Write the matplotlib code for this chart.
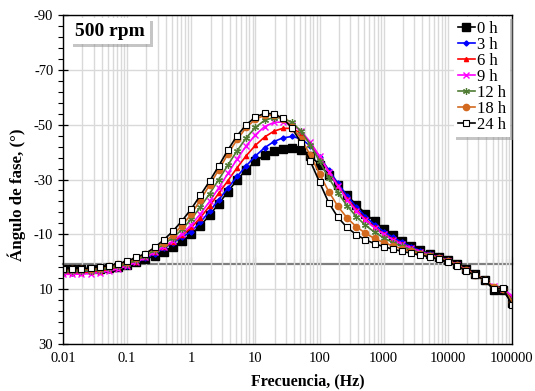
import matplotlib
matplotlib.use("Agg")
import matplotlib.pyplot as plt
import matplotlib.patheffects as pe
from matplotlib.ticker import FixedLocator, FuncFormatter, LogLocator, NullFormatter

plt.rcParams['font.family'] = ['Liberation Serif', 'DejaVu Serif']
plt.rcParams['axes.unicode_minus'] = False

# Measurement frequencies (7 points per decade), Hz
freq_hz = [
    0.01, 0.013895, 0.019307, 0.026827, 0.037276, 0.051795, 0.071969,
    0.1, 0.13895, 0.19307, 0.26827, 0.37276, 0.51795, 0.71969,
    1.0, 1.3895, 1.9307, 2.6827, 3.7276, 5.1795, 7.1969,
    10.0, 13.895, 19.307, 26.827, 37.276, 51.795, 71.969,
    100.0, 138.95, 193.07, 268.27, 372.76, 517.95, 719.69,
    1000.0, 1389.5, 1930.7, 2682.7, 3727.6, 5179.5, 7196.9,
    10000.0, 13895.0, 19307.0, 26827.0, 37276.0, 51795.0, 71969.0,
    100000.0]

# Phase angle (degrees) for each immersion time
phase_0h = [2.8, 2.8, 2.8, 2.7, 2.5, 2.2, 1.8,
            1.1, 0.2, -0.9, -2.2, -3.7, -5.4, -7.5,
            -10.0, -13.2, -17.0, -21.2, -25.6, -29.8, -33.6,
            -36.6, -38.9, -40.4, -41.3, -41.6, -40.8, -38.6,
            -35.4, -31.8, -28.0, -24.3, -20.8, -17.6, -14.7,
            -12.0, -9.7, -7.6, -5.8, -4.2, -2.9, -1.7,
            -0.6, 0.9, 2.8, 4.6, 6.6, 10.2, 10.4, 15.0]
phase_3h = [4.0, 4.0, 3.9, 3.8, 3.5, 3.0, 2.3,
            1.4, 0.2, -1.3, -3.0, -4.9, -6.9, -9.0,
            -11.0, -14.5, -18.4, -22.6, -26.9, -31.1, -35.0,
            -38.6, -41.6, -43.8, -45.2, -45.7, -44.8, -42.2,
            -38.3, -33.5, -28.6, -24.0, -20.0, -16.5, -13.5,
            -11.0, -8.9, -7.1, -5.5, -4.0, -2.7, -1.6,
            -0.5, 1.0, 3.0, 4.8, 6.6, 9.6, 9.8, 13.5]
phase_6h = [4.2, 4.2, 4.1, 3.9, 3.6, 3.1, 2.3,
            1.3, 0.0, -1.6, -3.4, -5.2, -7.2, -9.6,
            -12.5, -16.1, -20.4, -25.0, -29.6, -34.3, -38.7,
            -42.5, -45.5, -47.6, -48.7, -48.6, -46.8, -43.2,
            -38.3, -32.9, -27.8, -23.0, -19.0, -15.5, -12.6,
            -10.2, -8.2, -6.5, -5.0, -3.7, -2.6, -1.5,
            -0.4, 1.1, 3.0, 4.8, 6.6, 9.3, 9.6, 13.0]
phase_9h = [4.6, 4.6, 4.5, 4.3, 4.0, 3.4, 2.6,
            1.5, 0.1, -1.6, -3.5, -5.5, -7.6, -10.2,
            -13.5, -17.5, -22.0, -27.0, -32.2, -37.5, -42.3,
            -46.3, -49.3, -50.8, -51.0, -50.0, -47.6, -43.6,
            -38.4, -32.8, -27.6, -22.6, -18.6, -15.2, -12.4,
            -10.0, -8.0, -6.3, -4.9, -3.6, -2.5, -1.5,
            -0.4, 1.1, 3.0, 4.8, 6.8, 9.0, 9.8, 12.5]
phase_12h = [3.5, 3.5, 3.4, 3.2, 2.9, 2.4, 1.7,
             0.7, -0.6, -2.2, -4.2, -6.4, -8.8, -11.8,
             -15.6, -20.0, -24.8, -30.0, -35.3, -40.5, -45.2,
             -49.0, -51.6, -52.6, -52.4, -50.8, -47.6, -42.6,
             -36.6, -30.6, -25.2, -20.4, -16.5, -13.3, -10.8,
             -8.7, -7.0, -5.6, -4.4, -3.3, -2.3, -1.4,
             -0.4, 1.2, 3.2, 5.0, 6.8, 9.5, 10.0, 14.0]
phase_18h = [2.8, 2.8, 2.7, 2.5, 2.2, 1.7, 1.0,
             0.1, -1.2, -2.9, -4.9, -7.0, -9.8, -13.2,
             -17.4, -22.6, -28.0, -33.6, -39.3, -44.6, -49.0,
             -52.0, -53.4, -53.5, -52.2, -49.3, -44.8, -38.8,
             -32.0, -25.6, -20.2, -16.0, -12.8, -10.4, -8.5,
             -7.0, -5.8, -4.7, -3.8, -2.9, -2.1, -1.3,
             -0.4, 1.2, 3.0, 4.8, 6.5, 9.2, 9.8, 14.5]
phase_24h = [2.6, 2.6, 2.5, 2.3, 2.0, 1.5, 0.8,
             -0.2, -1.6, -3.0, -5.2, -8.0, -11.2, -15.0,
             -19.3, -24.3, -29.4, -35.0, -40.8, -46.0, -50.0,
             -52.8, -54.1, -54.0, -52.3, -48.7, -43.3, -36.6,
             -29.0, -21.5, -16.2, -12.5, -9.9, -8.0, -6.6,
             -5.5, -4.6, -3.8, -3.1, -2.4, -1.8, -1.0,
             0.0, 1.5, 3.3, 5.0, 6.6, 10.0, 9.5, 15.8]

series_labels = ['0 h', '3 h', '6 h', '9 h', '12 h', '18 h', '24 h']
series_values = [phase_0h, phase_3h, phase_6h, phase_9h, phase_12h, phase_18h, phase_24h]

y_ticks = [-90, -70, -50, -30, -10, 10, 30]
x_ticks = [0.01, 0.1, 1, 10, 100, 1000, 10000, 100000]
axis_cross = 1.0
panel_label = '500 rpm'

styles = [
    dict(color='black', marker='s', ms=5.5, mfc='black', mec='black'),
    dict(color='#0000FF', marker='D', ms=2.6, mfc='#0000FF', mec='#0000FF'),
    dict(color='#FF0000', marker='^', ms=3.0, mfc='#FF0000', mec='#FF0000'),
    dict(color='#FF00FF', marker='x', ms=4.0, mfc='#FF00FF', mec='#FF00FF', mew=1.0),
    dict(color='#4F7B32', marker=(6, 2, 0), ms=5.0, mfc='#4F7B32', mec='#4F7B32', mew=0.9),
    dict(color='#D2691E', marker='o', ms=4.5, mfc='#D2691E', mec='#D2691E'),
    dict(color='black', marker='s', ms=5.0, mfc='white', mec='black', mew=0.8),
]

fig = plt.figure(figsize=(5.35, 3.91), dpi=100)
ax = fig.add_axes([0.1178, 0.1202, 0.8392, 0.8414])

for lab, vals, st in zip(series_labels, series_values, styles):
    ax.plot(freq_hz, vals, lw=1.2, label=lab, **st)

ax.set_xscale('log')
ax.set_xlim(0.01, 100000)
ax.set_ylim(30, -90)

ax.xaxis.set_major_locator(FixedLocator(x_ticks))
ax.xaxis.set_major_formatter(FuncFormatter(lambda v, p: '%g' % v))
ax.xaxis.set_minor_locator(LogLocator(base=10, subs=range(2, 10), numticks=20))
ax.xaxis.set_minor_formatter(NullFormatter())
ax.yaxis.set_major_locator(FixedLocator(y_ticks))
ax.yaxis.set_minor_locator(FixedLocator(list(range(-90, 31, 4))))

ax.tick_params(axis='x', which='both', length=0, labelsize=10.5, pad=6)
ax.tick_params(axis='y', which='major', direction='inout', length=7, width=0.9, labelsize=10.5)
ax.tick_params(axis='y', which='minor', direction='out', length=3.5, width=0.8)

ax.grid(which='major', axis='both', color='#d9d9d9', lw=1.0)
ax.grid(which='minor', axis='x', color='#d9d9d9', lw=1.0)
ax.set_axisbelow(True)
for sp in ax.spines.values():
    sp.set_linewidth(1.0)

# horizontal axis line crossing the plot, with its tick marks
sec = ax.secondary_xaxis((30 - axis_cross) / 120.0)
sec.xaxis.set_major_locator(FixedLocator(x_ticks))
sec.xaxis.set_minor_locator(LogLocator(base=10, subs=range(2, 10), numticks=20))
sec.tick_params(which='both', direction='in', labelbottom=False, color='#404040', width=0.8)
sec.tick_params(which='major', length=5)
sec.tick_params(which='minor', length=3.5)
sec.spines['bottom'].set_color('#7f7f7f')
sec.spines['bottom'].set_linewidth(1.6)

ax.set_xlabel('Frecuencia, (Hz)', fontsize=11.5, fontweight='bold')
ax.xaxis.set_label_coords(0.546, -0.088)
ax.set_ylabel('Ángulo de fase, (°)', fontsize=12.2, fontweight='bold')
ax.yaxis.set_label_coords(-0.082, 0.455)

shadow = [pe.SimplePatchShadow(offset=(2, -2), shadow_rgbFace='#8c8c8c', alpha=0.5), pe.Normal()]

t = ax.text(0.027, 0.951, panel_label, transform=ax.transAxes, ha='left', va='center',
            fontsize=14, fontweight='bold',
            bbox=dict(boxstyle='square,pad=0.25', fc='white', ec='none'))
t.get_bbox_patch().set_path_effects(shadow)

leg = ax.legend(loc='upper right', bbox_to_anchor=(1.0, 1.0), fontsize=12, frameon=True,
                fancybox=False, handlelength=1.0, handletextpad=0.15, labelspacing=0.0,
                borderpad=0.25, borderaxespad=0.1)
leg.get_frame().set_edgecolor('none')
leg.get_frame().set_facecolor('white')
leg.get_frame().set_alpha(1.0)
leg.get_frame().set_path_effects(shadow)

fig.savefig('out.png', dpi=100)
